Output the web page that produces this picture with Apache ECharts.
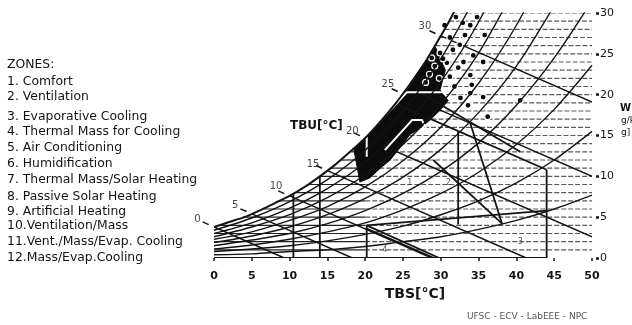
<!DOCTYPE html>
<html>
<head>
<meta charset="utf-8">
<script src="https://cdn.jsdelivr.net/npm/echarts@6/dist/echarts.min.js"></script>
<style>
  html, body { margin: 0; padding: 0; background: #fff; }
  #chart { width: 632px; height: 325px; }
</style>
</head>
<body>
<div id="chart"></div>
<script>
// dry bulb temperatures (°C) used for the relative humidity curves
const rhTemps = [0, 5, 10, 15, 20, 25, 30, 35, 40, 45, 50]
// humidity ratio (g/kg) of each RH curve
const rh10 = [0.4, 0.5, 0.8, 1.0, 1.4, 2.0, 2.6, 3.5, 4.6, 6.0, 7.7]
const rh20 = [0.8, 1.1, 1.5, 2.1, 2.9, 3.9, 5.3, 7.0, 9.2, 12.0, 15.5]
const rh30 = [1.1, 1.6, 2.3, 3.2, 4.3, 5.9, 7.9, 10.5, 13.9, 18.2, 23.6]
const rh40 = [1.5, 2.2, 3.0, 4.2, 5.8, 7.9, 10.6, 14.1, 18.7, 24.5, 31.5]
const rh50 = [1.9, 2.7, 3.8, 5.3, 7.3, 9.9, 13.3, 17.8, 23.5, 30.9]
const rh60 = [2.3, 3.2, 4.6, 6.3, 8.7, 11.9, 16.0, 21.4, 28.5, 37.5]
const rh70 = [2.6, 3.8, 5.3, 7.4, 10.2, 13.9, 18.8, 25.1, 33.4]
const rh80 = [3.0, 4.3, 6.1, 8.5, 11.7, 16.0, 21.6, 28.9, 38.5]
const rh90 = [3.4, 4.9, 6.9, 9.6, 13.2, 18.0, 24.4, 32.7]

// saturation curve
const satT = [0, 2, 4, 6, 8, 10, 12, 14, 16, 18, 20, 22, 24, 26, 28, 30, 31, 32]
const satW = [3.8, 4.4, 5.0, 5.8, 6.7, 7.6, 8.7, 10.0, 11.4, 13.0, 14.7, 16.7, 18.9, 21.4, 24.1, 27.2, 28.8, 30.6]

// horizontal humidity ratio lines, start on the saturation curve
const hLevels = [1, 2, 3, 4, 5, 6, 7, 8, 9, 10, 11, 12, 13, 14, 15, 16, 17, 18, 19, 20, 21, 22, 23, 24, 25, 26, 27, 28, 29, 30]
const hStartT = [0, 0, 0, 0.9, 3.8, 6.5, 8.7, 10.6, 12.4, 14.0, 15.5, 16.8, 18.1, 19.2, 20.3, 21.3, 22.3, 23.2, 24.1, 24.9, 25.7, 26.5, 27.2, 28.0, 28.6, 29.3, 29.9, 30.5, 31.1, 31.6]

// wet bulb lines (TBU)
const wbT = [0, 5, 10, 15, 20, 25, 30]
const wbStartW = [3.8, 5.4, 7.6, 10.7, 14.7, 20.1, 27.2]
const wbEndT = [9.3, 18.3, 28.8, 41.3, 50, 50, 50]
const wbEndW = [0, 0, 0, 0, 2.6, 10.0, 19.1]
const wbLabelT = [-2.2, 2.8, 8.2, 13.1, 18.3, 23.0, 27.9]
const wbLabelW = [4.7, 6.5, 8.8, 11.5, 15.5, 21.2, 28.4]

// bioclimatic zone boundaries
const zoneLines = [
  [[10.5, 0], [10.5, 7.9]],
  [[14, 0], [14, 10.0]],
  [[20.2, 0], [20.2, 4.0]],
  [[20.2, 4.0], [29.8, 0]],
  [[20.2, 3.6], [29.1, 0]],
  [[0, 0], [44, 0]],
  [[44, 0], [44, 10.8]],
  [[24, 18.9], [44, 10.8]],
  [[32.3, 4.1], [32.3, 15.5]],
  [[33.9, 16.5], [38.1, 4.2]],
  [[29.0, 12.0], [38.1, 4.2]],
  [[20.2, 4.0], [44, 5.8]],
  [[27.2, 20.3], [40.5, 13.0]],
]
// zone boundaries seen in white over the dense data
const whiteLines = [
  [[20.2, 12.4], [20.2, 15.0], [25.5, 20.3], [30.3, 20.3], [31.5, 19.0]],
  [[22.6, 13.2], [26.2, 16.9], [27.5, 16.9], [28.3, 15.4]],
]

// dense black cloud of climate data
const cloudT = [18.5, 20, 22, 24, 26, 28, 29.3, 30.6, 29.9, 31.0, 29.9, 28.6, 27.2, 25.9, 24.6, 23.3, 22.0, 20.6, 19.3]
const cloudW = [13.3, 14.7, 16.7, 18.9, 21.4, 24.1, 25.8, 23.0, 20.6, 19.3, 18.1, 16.9, 15.9, 15.1, 13.5, 12.0, 11.0, 9.8, 9.3]

// single climate data points
const dotsT = [33.9, 33.2, 32.5, 34.3, 35.8, 35.6, 33.9, 34.1, 33.9, 33.6, 36.2, 40.5, 31.2, 29.9, 31.6, 30.8, 32.3, 31.2, 35.6, 32.9, 34.8, 31.8, 32.6, 30.5, 28.8, 32.0, 33.0, 28.5, 29.2, 29.8, 28.0, 30.3]
const dotsW = [28.5, 27.3, 26.1, 24.8, 27.3, 24.0, 22.4, 21.2, 20.2, 18.7, 17.3, 19.3, 27.0, 25.1, 25.5, 23.9, 23.3, 22.2, 19.7, 28.8, 29.5, 21.0, 19.6, 28.5, 24.5, 29.5, 24.0, 22.5, 23.5, 22.0, 21.5, 24.4]

// small zone numbers inside the chart
const zoneNumText = ['1', '2', '4', '3', '4']
const zoneNumT = [25.9, 31.0, 35.2, 40.5, 22.6]
const zoneNumW = [9.2, 9.2, 6.8, 2.0, 1.0]

const zoneNames = [
  'ZONES:',
  '1. Comfort',
  '2. Ventilation',
  '3. Evaporative Cooling',
  '4. Thermal Mass for Cooling',
  '5. Air Conditioning',
  '6. Humidification',
  '7. Thermal Mass/Solar Heating',
  '8. Passive Solar Heating',
  '9. Artificial Heating',
  '10.Ventilation/Mass',
  '11.Vent./Mass/Evap. Cooling',
  '12.Mass/Evap.Cooling',
]

const FONT = 'DejaVu Sans'
const INK = '#141414'

const chart = echarts.init(document.getElementById('chart'), null, { renderer: 'canvas' })

const rhCurves = [rh10, rh20, rh30, rh40, rh50, rh60, rh70, rh80, rh90]

const legendTops = [65, 82, 97, 117, 132, 148, 164, 180, 197, 212, 226, 242, 258]

function polylineRenderer(lines, stroke, width) {
  return (params, api) => ({
    type: 'polyline',
    shape: { points: lines[params.dataIndex].map((p) => api.coord(p)) },
    style: { stroke, lineWidth: width, fill: null },
  })
}

const option = {
  animation: false,
  backgroundColor: '#fff',
  grid: { left: 214, right: 40, top: 13, bottom: 67 },
  xAxis: {
    type: 'value',
    min: 0,
    max: 50,
    interval: 5,
    axisLine: { show: false, onZero: false },
    axisTick: { show: true, length: 3, lineStyle: { color: INK, width: 1.5 } },
    splitLine: { show: false },
    axisLabel: { color: INK, fontSize: 11, fontWeight: 'bold', fontFamily: FONT, margin: 13 },
  },
  yAxis: {
    type: 'value',
    position: 'right',
    offset: 4,
    min: 0,
    max: 30,
    interval: 5,
    axisLine: { show: false, onZero: false },
    axisTick: { show: true, length: 3, lineStyle: { color: INK, width: 2.5 } },
    splitLine: { show: false },
    axisLabel: { color: INK, fontSize: 11, fontFamily: FONT, margin: 4 },
  },
  series: [
    {
      type: 'custom',
      name: 'humidity ratio lines',
      clip: true,
      silent: true,
      data: hLevels.map((w, i) => [hStartT[i], w]),
      renderItem: (params, api) => {
        const t0 = api.value(0)
        const w = api.value(1)
        const children = []
        const dashed = { stroke: '#5a5a5a', lineWidth: 1.1, lineDash: [5, 2] }
        if (t0 < 20) {
          const a = api.coord([t0, w])
          const m = api.coord([20, w])
          children.push({ type: 'line', shape: { x1: a[0], y1: a[1], x2: m[0], y2: m[1] }, style: { stroke: '#222', lineWidth: 1.2 } })
          const b = api.coord([50, w])
          children.push({ type: 'line', shape: { x1: m[0], y1: m[1], x2: b[0], y2: b[1] }, style: dashed })
        } else {
          const a = api.coord([t0, w])
          const b = api.coord([50, w])
          children.push({ type: 'line', shape: { x1: a[0], y1: a[1], x2: b[0], y2: b[1] }, style: dashed })
        }
        return { type: 'group', children }
      },
    },
    ...rhCurves.map((vals, k) => ({
      type: 'line',
      name: 'RH ' + (k + 1) * 10 + '%',
      data: vals.map((w, i) => [rhTemps[i], w]),
      smooth: 0.3,
      symbol: 'none',
      silent: true,
      lineStyle: { color: INK, width: 1.4 },
    })),
    {
      type: 'line',
      name: 'saturation',
      data: satT.map((t, i) => [t, satW[i]]),
      smooth: 0.3,
      symbol: 'none',
      silent: true,
      lineStyle: { color: INK, width: 2 },
    },
    {
      type: 'custom',
      name: 'wet bulb',
      clip: true,
      silent: true,
      data: wbT.map((t, i) => [t, wbStartW[i], wbEndT[i], wbEndW[i]]),
      encode: { x: [0, 2], y: [1, 3] },
      renderItem: (params, api) => {
        const a = api.coord([api.value(0), api.value(1)])
        const b = api.coord([api.value(2), api.value(3)])
        return { type: 'line', shape: { x1: a[0], y1: a[1], x2: b[0], y2: b[1] }, style: { stroke: INK, lineWidth: 1.5 } }
      },
    },
    {
      type: 'custom',
      name: 'wet bulb ticks',
      silent: true,
      data: wbT.map((t, i) => [t, wbStartW[i]]),
      renderItem: (params, api) => {
        const t = api.value(0)
        const w = api.value(1)
        const a = api.coord([t - 1.5, w + 0.62])
        const b = api.coord([t - 0.7, w + 0.29])
        return { type: 'line', shape: { x1: a[0], y1: a[1], x2: b[0], y2: b[1] }, style: { stroke: INK, lineWidth: 1.5 } }
      },
    },
    {
      type: 'custom',
      name: 'data cloud',
      silent: true,
      data: [[cloudT[0], cloudW[0]]],
      renderItem: (params, api) => ({
        type: 'polygon',
        shape: { points: cloudT.map((t, i) => api.coord([t, cloudW[i]])) },
        style: { fill: '#0c0c0c', stroke: '#0c0c0c', lineWidth: 1 },
      }),
    },
    {
      type: 'custom',
      name: 'zones',
      clip: true,
      silent: true,
      data: zoneLines.map((pts) => pts[0]),
      renderItem: polylineRenderer(zoneLines, INK, 1.8),
    },
    {
      type: 'scatter',
      name: 'climate data',
      silent: true,
      data: dotsT.map((t, i) => [t, dotsW[i]]),
      symbolSize: 6,
      itemStyle: { color: '#0c0c0c', borderColor: '#fff', borderWidth: 1.2, opacity: 1 },
    },
    {
      type: 'custom',
      name: 'zones over data',
      clip: true,
      silent: true,
      data: whiteLines.map((pts) => pts[0]),
      renderItem: polylineRenderer(whiteLines, '#fff', 2),
    },
    {
      type: 'scatter',
      name: 'TBU labels',
      silent: true,
      clip: false,
      data: wbT.map((t, i) => [wbLabelT[i], wbLabelW[i], t]),
      symbolSize: 1,
      itemStyle: { color: 'rgba(0,0,0,0)' },
      label: {
        show: true,
        position: 'inside',
        formatter: (p) => String(p.value[2]),
        color: INK,
        fontSize: 10,
        fontFamily: FONT,
      },
    },
    {
      type: 'scatter',
      name: 'zone numbers',
      silent: true,
      data: zoneNumT.map((t, i) => [t, zoneNumW[i], zoneNumText[i]]),
      symbolSize: 1,
      itemStyle: { color: 'rgba(0,0,0,0)' },
      label: {
        show: true,
        position: 'inside',
        formatter: (p) => p.value[2],
        color: '#333',
        fontSize: 8,
        fontFamily: FONT,
      },
    },
  ],
  graphic: [
    ...zoneNames.map((name, i) => ({
      type: 'text',
      x: 7,
      y: legendTops[i],
      silent: true,
      style: { text: name, fill: INK, font: '12.4px ' + FONT, verticalAlign: 'middle' },
    })),
    {
      type: 'text', x: 290, y: 126, silent: true,
      style: { text: 'TBU[°C]', fill: INK, font: 'bold 12px ' + FONT, verticalAlign: 'middle' },
    },
    {
      type: 'text', x: 415, y: 294, silent: true,
      style: { text: 'TBS[°C]', fill: INK, font: 'bold 14px ' + FONT, align: 'center', verticalAlign: 'middle' },
    },
    {
      type: 'text', x: 620, y: 108, silent: true,
      style: { text: 'W', fill: INK, font: 'bold 10px ' + FONT, verticalAlign: 'middle' },
    },
    {
      type: 'text', x: 621, y: 121, silent: true,
      style: { text: 'g/k', fill: INK, font: '9px ' + FONT, verticalAlign: 'middle' },
    },
    {
      type: 'text', x: 621, y: 133, silent: true,
      style: { text: 'g]', fill: INK, font: '9px ' + FONT, verticalAlign: 'middle' },
    },
    {
      type: 'text', x: 467, y: 317, silent: true,
      style: { text: 'UFSC - ECV - LabEEE - NPC', fill: '#555', font: '9px ' + FONT, verticalAlign: 'middle' },
    },
  ],
}

chart.setOption(option)
</script>
</body>
</html>
